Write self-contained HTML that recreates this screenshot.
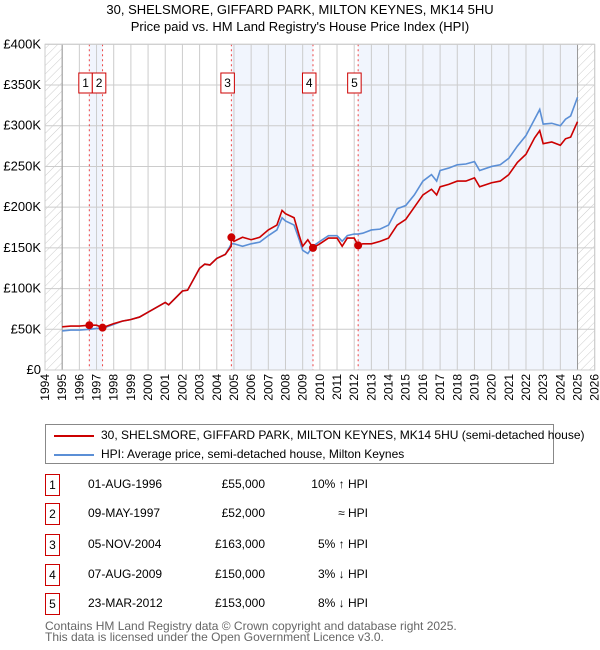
<!DOCTYPE html>
<html><head><meta charset="utf-8"><style>
body{margin:0;background:#fff;font-family:"Liberation Sans","DejaVu Sans",sans-serif;}
#wrap{position:relative;width:600px;height:650px;overflow:hidden;}
.t{position:absolute;font-size:12px;color:#000;white-space:nowrap;}
.box{position:absolute;border:1px solid #c00;width:13px;height:20px;text-align:center;line-height:20px;font-size:12px;}
</style></head><body>
<div id="wrap">
<div class="t" style="left:0;width:600px;text-align:center;top:2px;font-size:13px;">30, SHELSMORE, GIFFARD PARK, MILTON KEYNES, MK14 5HU</div>
<div class="t" style="left:0;width:600px;text-align:center;top:19px;font-size:13px;">Price paid vs. HM Land Registry's House Price Index (HPI)</div>
<svg id="chart" width="600" height="410" style="position:absolute;left:0;top:0;font-family:'Liberation Sans','DejaVu Sans',sans-serif;">
<defs><pattern id="hatch" width="6" height="6" patternUnits="userSpaceOnUse" patternTransform="rotate(45)"><line x1="0" y1="0" x2="0" y2="6" stroke="#ccc" stroke-width="1"/></pattern></defs>
</svg>
<div style="position:absolute;left:45px;top:424px;width:507px;height:38px;border:1px solid #888;">
<div style="position:absolute;left:8px;top:10px;width:40px;height:2px;background:#c00;"></div>
<div class="t" style="left:55px;top:3px;">30, SHELSMORE, GIFFARD PARK, MILTON KEYNES, MK14 5HU (semi-detached house)</div>
<div style="position:absolute;left:8px;top:29px;width:40px;height:2px;background:#5b8fd6;"></div>
<div class="t" style="left:55px;top:22px;">HPI: Average price, semi-detached house, Milton Keynes</div>
</div>
<div id="table"></div>
<div class="t" style="left:45px;top:619px;color:#666;">Contains HM Land Registry data © Crown copyright and database right 2025.</div>
<div class="t" style="left:45px;top:630px;color:#666;">This data is licensed under the Open Government Licence v3.0.</div>
</div>
<script>
const yearTicks=[1994,1995,1996,1997,1998,1999,2000,2001,2002,2003,2004,2005,2006,2007,2008,2009,2010,2011,2012,2013,2014,2015,2016,2017,2018,2019,2020,2021,2022,2023,2024,2025,2026];
const priceTicks=[0,50,100,150,200,250,300,350,400];
const priceTickLabels=["£0","£50K","£100K","£150K","£200K","£250K","£300K","£350K","£400K"];
const redT=[1995,1995.5,1996,1996.58,1997,1997.35,1998,1998.5,1999,1999.5,2000,2000.5,2001,2001.2,2002,2002.3,2003,2003.3,2003.6,2004,2004.5,2004.84,2004.85,2005,2005.5,2006,2006.5,2007,2007.5,2007.8,2008,2008.5,2008.8,2009,2009.3,2009.6,2010,2010.5,2011,2011.3,2011.6,2012,2012.23,2012.5,2013,2013.5,2014,2014.5,2015,2015.5,2016,2016.5,2016.8,2017,2017.5,2018,2018.5,2019,2019.3,2020,2020.5,2021,2021.5,2022,2022.5,2022.8,2023,2023.5,2024,2024.3,2024.6,2025];
const redV=[53,54,54,55,55,52,57,60,62,65,71,77,83,80,97,98,125,130,129,137,142,152,163,158,163,160,163,172,178,196,192,187,165,152,160,150,155,162,162,152,162,162,153,155,155,158,162,178,185,200,215,222,215,225,228,232,232,236,225,230,232,240,255,265,285,294,278,280,276,284,286,305];
const hpiT=[1995,1995.5,1996,1996.58,1997,1997.35,1998,1998.5,1999,1999.5,2000,2000.5,2001,2001.2,2002,2002.3,2003,2003.3,2003.6,2004,2004.5,2004.85,2005,2005.5,2006,2006.5,2007,2007.5,2007.8,2008,2008.5,2008.8,2009,2009.3,2009.6,2010,2010.5,2011,2011.3,2011.6,2012,2012.23,2012.5,2013,2013.5,2014,2014.5,2015,2015.5,2016,2016.5,2016.8,2017,2017.5,2018,2018.5,2019,2019.3,2020,2020.5,2021,2021.5,2022,2022.5,2022.8,2023,2023.5,2024,2024.3,2024.6,2025];
const hpiV=[48,49,49,50,51,51,56,60,62,65,71,77,83,80,97,98,125,130,129,137,142,155,155,152,155,157,165,172,187,183,178,160,147,143,152,158,165,165,158,165,167,167,168,172,173,178,198,202,215,232,240,232,245,248,252,253,256,245,250,252,260,275,288,308,320,302,303,300,308,312,335];
const saleT=[1996.58,1997.35,2004.85,2009.6,2012.23];
const saleV=[55,52,163,150,153];
const saleLabels=["1","2","3","4","5"];
const saleDates=["01-AUG-1996","09-MAY-1997","05-NOV-2004","07-AUG-2009","23-MAR-2012"];
const salePrices=["£55,000","£52,000","£163,000","£150,000","£153,000"];
const saleHpi=["10% ↑ HPI","≈ HPI","5% ↑ HPI","3% ↓ HPI","8% ↓ HPI"];

const L=45,R=594.7,T=44.3,B=370;
const x=t=>L+(t-1994)/32*(R-L);
const y=v=>B-v/400*(B-T);
const svg=document.getElementById('chart');
const NS='http://www.w3.org/2000/svg';
function mk(tag,attrs,parent){const e=document.createElementNS(NS,tag);for(const k in attrs)e.setAttribute(k,attrs[k]);(parent||svg).appendChild(e);return e;}
const shades=[[saleT[0],saleT[1]],[saleT[2],saleT[3]],[saleT[4],2025]];
shades.forEach(s=>{const r=mk('rect',{x:x(s[0]),y:T,width:x(s[1])-x(s[0]),height:B-T,fill:'#eef3fc',opacity:0.8});

});
[[1994,1995],[2025,2026]].forEach(s=>{const r=mk('rect',{x:x(s[0]),y:T,width:x(s[1])-x(s[0]),height:B-T,fill:'url(#hatch)'});

});
yearTicks.forEach(t=>{const l=mk('line',{x1:x(t),x2:x(t),y1:T,y2:B,stroke:'#ccc','stroke-width':1});


const tx=mk('text',{x:0,y:0,'font-size':12,transform:`translate(${x(t)+4},${B+4}) rotate(-90)`,'text-anchor':'end'});
tx.textContent=t;

});
priceTicks.forEach((v,i)=>{const l=mk('line',{x1:L,x2:R,y1:y(v),y2:y(v),stroke:'#ccc','stroke-width':1});


const tx=mk('text',{x:L-4,y:y(v)+4,'font-size':13,'text-anchor':'end'});
tx.textContent=priceTickLabels[i];

});
[1995,2025].forEach(t=>{const l=mk('line',{x1:x(t),x2:x(t),y1:T,y2:B,stroke:'#999','stroke-width':1});

});
let prevRight=-1000;
saleT.forEach((t,i)=>{const l=mk('line',{x1:x(t),x2:x(t),y1:T,y2:B,stroke:'#e44','stroke-width':1,'stroke-dasharray':'2,3'});


const bx=Math.max(x(t)-10.5,prevRight);
prevRight=bx+13.5;
const r=mk('rect',{x:bx,y:73,width:13.5,height:20,fill:'#fff',stroke:'#c00','stroke-width':1});


const tx=mk('text',{x:bx+6.75,y:87,'font-size':12,'text-anchor':'middle'});
tx.textContent=saleLabels[i];

});
mk('rect',{x:L,y:T,width:R-L,height:B-T,fill:'none',stroke:'#ccc'});
function line(ts,vs,c,n){const p=mk('polyline',{points:ts.map((t,i)=>x(t)+','+y(vs[i])).join(' '),fill:'none',stroke:c,'stroke-width':1.6});

}
line(hpiT,hpiV,'#5b8fd6','hpi-line');
line(redT,redV,'#c00','property-line');
saleT.forEach((t,i)=>{const c=mk('circle',{cx:x(t),cy:y(saleV[i]),r:4,fill:'#c00'});

});
const tb=document.getElementById('table');
const rowY=[485,514,545,575,604];
saleLabels.forEach((s,i)=>{const cy=rowY[i];
const b=document.createElement('div');b.className='box';b.style.left='45px';b.style.top=(cy-11)+'px';b.textContent=s;

tb.appendChild(b);
const cells=[[saleDates[i],88,'center',70],[salePrices[i],185,'right',80],[saleHpi[i],288,'right',80]];
cells.forEach((c,j)=>{const d=document.createElement('div');d.className='t';d.textContent=c[0];d.style.left=c[1]+'px';d.style.width=c[3]+'px';d.style.textAlign=c[2];d.style.top=(cy-8)+'px';

tb.appendChild(d);});});
</script>
</body></html>
